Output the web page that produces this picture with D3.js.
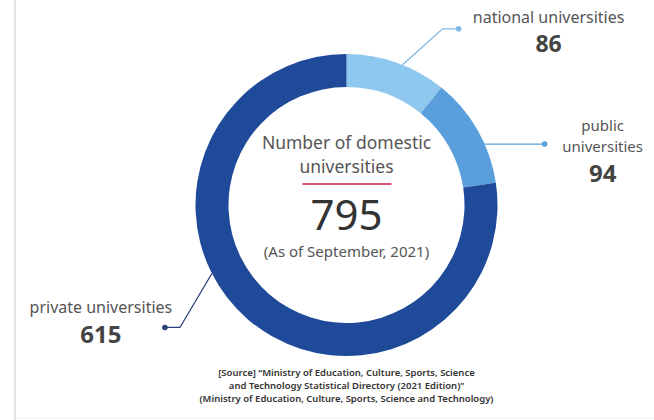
<!DOCTYPE html>
<html>
<head>
<meta charset="utf-8">
<script src="https://cdn.jsdelivr.net/npm/d3@7"></script>
<style>
  body { margin: 0; background: #fff; }
  svg { display: block; font-family: "Noto Sans", "Open Sans", sans-serif; }
</style>
</head>
<body>
<svg id="chart" width="654" height="420"></svg>
<script>
// data
const categories = ["national universities", "public universities", "private universities"];
const counts = [86, 94, 615];
const total = 795;
const asOf = "(As of September, 2021)";
const sourceLines = [
  "[Source] \u201cMinistry of Education, Culture, Sports, Science",
  "and Technology Statistical Directory (2021 Edition)\u201d",
  "(Ministry of Education, Culture, Sports, Science and Technology)"
];

const svg = d3.select("#chart");
const cx = 346.5, cy = 205, outerR = 151, innerR = 118;
const colors = ["#8ec8ee", "#5a9fdc", "#1f4a9a"];
const lineColors = ["#7db8e6", "#5a9fdc", "#2a3f7a"];

// faint frame on the left / bottom
svg.append("line").attr("x1", 15).attr("x2", 15).attr("y1", 0).attr("y2", 420)
  .attr("stroke", "#e2e2e2").attr("stroke-width", 2);
svg.append("line").attr("x1", 15).attr("x2", 654).attr("y1", 418).attr("y2", 418)
  .attr("stroke", "#f0f0f0").attr("stroke-width", 1);

const pie = d3.pie().sort(null).value(d => d)(counts);
const arc = d3.arc().innerRadius(innerR).outerRadius(outerR);

const g = svg.append("g").attr("transform", `translate(${cx},${cy})`);
g.selectAll("path.slice")
  .data(pie)
  .enter()
  .append("path")
  .attr("class", "slice")
  .attr("d", arc)
  .attr("fill", (d, i) => colors[i]);

// leader lines: start on the outer edge of each slice
const anchorT = [0.56, 0.64, 0.58];
function edgePoint(d, i) {
  const a = d.startAngle + (d.endAngle - d.startAngle) * anchorT[i];
  return [cx + outerR * Math.sin(a), cy - outerR * Math.cos(a)];
}
const leaders = pie.map((d, i) => {
  const p = edgePoint(d, i);
  if (i === 0) return [p, [p[0] + 40, p[1] - 36], [p[0] + 56, p[1] - 36]];
  if (i === 1) return [p, [p[0] + 60, p[1]]];
  return [p, [p[0] - 32, p[1] + 54], [p[0] - 47, p[1] + 54]];
});
const line = d3.line();
leaders.forEach((pts, i) => {
  svg.append("path").attr("d", line(pts)).attr("fill", "none")
    .attr("stroke", lineColors[i]).attr("stroke-width", 1.3);
  const end = pts[pts.length - 1];
  svg.append("circle").attr("cx", end[0]).attr("cy", end[1]).attr("r", 2.8)
    .attr("fill", lineColors[i]);
});

// outside labels
const lab = svg.append("g").attr("fill", "#555").attr("text-anchor", "middle");
const n0 = leaders[0][2], n1 = leaders[1][1], n2 = leaders[2][2];
lab.append("text").attr("x", n0[0] + 90).attr("y", n0[1] - 6).attr("font-size", 16)
  .text(categories[0]);
lab.append("text").attr("x", n0[0] + 90).attr("y", n0[1] + 23).attr("font-size", 23)
  .attr("font-weight", 700).attr("fill", "#444").text(counts[0]);

const pubWords = categories[1].split(" ");
lab.append("text").attr("x", n1[0] + 58).attr("y", n1[1] - 13).attr("font-size", 15).text(pubWords[0]);
lab.append("text").attr("x", n1[0] + 58).attr("y", n1[1] + 7.5).attr("font-size", 15).text(pubWords[1]);
lab.append("text").attr("x", n1[0] + 58).attr("y", n1[1] + 38).attr("font-size", 24)
  .attr("font-weight", 700).attr("fill", "#444").text(counts[1]);

lab.append("text").attr("x", n2[0] - 64).attr("y", n2[1] - 14).attr("font-size", 16)
  .text(categories[2]);
lab.append("text").attr("x", n2[0] - 64).attr("y", n2[1] + 16).attr("font-size", 24)
  .attr("font-weight", 700).attr("fill", "#444").text(counts[2]);

// centre text
const c = svg.append("g").attr("text-anchor", "middle").attr("fill", "#555");
c.append("text").attr("x", cx).attr("y", 149).attr("font-size", 17.5).text("Number of domestic");
c.append("text").attr("x", cx).attr("y", 173).attr("font-size", 17.5).text("universities");
svg.append("line").attr("x1", cx - 44).attr("x2", cx + 45).attr("y1", 184).attr("y2", 184)
  .attr("stroke", "#d9506f").attr("stroke-width", 2);
c.append("text").attr("x", cx).attr("y", 230).attr("font-size", 42).attr("fill", "#333")
  .text(total);
c.append("text").attr("x", cx).attr("y", 257).attr("font-size", 15).text(asOf);

// source
const s = svg.append("g").attr("text-anchor", "middle").attr("fill", "#333")
  .attr("font-size", 9.5).attr("font-weight", 600);
sourceLines.forEach((t, i) => {
  s.append("text").attr("x", cx).attr("y", 376 + i * 13).text(t);
});
</script>
</body>
</html>
